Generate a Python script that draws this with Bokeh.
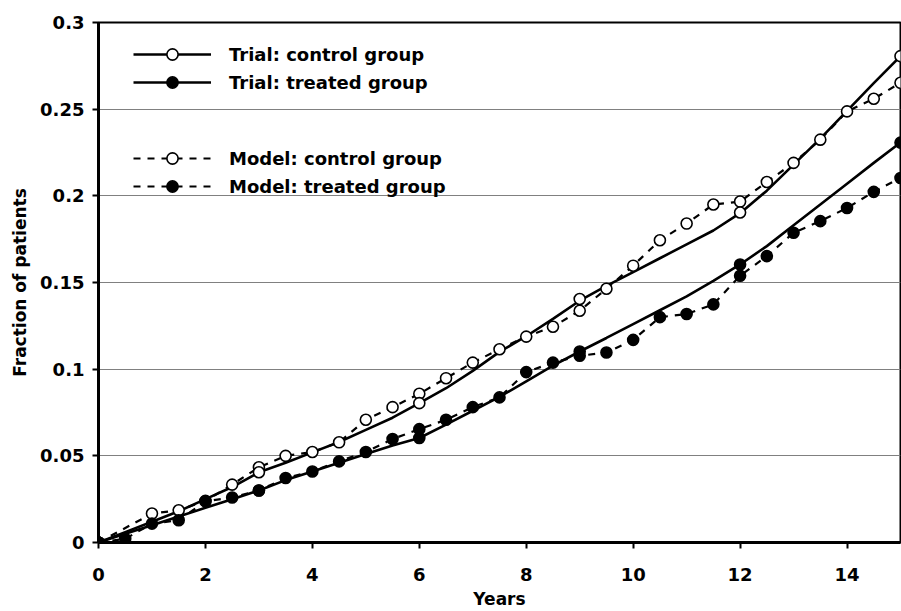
from bokeh.plotting import figure
from bokeh.models import FixedTicker, Legend, LegendItem, Range1d
from bokeh.embed import file_html
from bokeh.resources import INLINE

# ---- data ----
curve_years = [0, 0.5, 1, 1.5, 2, 2.5, 3, 3.5, 4, 4.5, 5, 5.5, 6, 6.5, 7, 7.5,
               8, 8.5, 9, 9.5, 10, 10.5, 11, 11.5, 12, 12.5, 13, 13.5, 14, 14.5, 15]
trial_control_curve = [0, 0.006, 0.012, 0.018, 0.025, 0.032, 0.0405, 0.046, 0.052, 0.058,
                       0.065, 0.072, 0.0804, 0.089, 0.099, 0.110, 0.119, 0.129, 0.1395,
                       0.148, 0.156, 0.164, 0.172, 0.180, 0.190, 0.203, 0.218, 0.233,
                       0.249, 0.265, 0.2806]
trial_treated_curve = [0, 0.005, 0.010, 0.015, 0.020, 0.025, 0.030, 0.036, 0.041, 0.046,
                       0.051, 0.056, 0.0603, 0.068, 0.076, 0.084, 0.093, 0.102, 0.1102,
                       0.118, 0.126, 0.134, 0.142, 0.151, 0.1604, 0.171, 0.183, 0.195,
                       0.207, 0.219, 0.2307]

trial_marker_years = [0, 3, 6, 9, 12, 15]
trial_control_pts = [0, 0.0405, 0.0804, 0.1405, 0.1904, 0.2806]
trial_treated_pts = [0, 0.030, 0.0603, 0.1102, 0.1604, 0.2307]

model_control_years = [0, 1, 1.5, 2, 2.5, 3, 3.5, 4, 4.5, 5, 5.5, 6, 6.5, 7, 7.5, 8,
                       8.5, 9, 9.5, 10, 10.5, 11, 11.5, 12, 12.5, 13, 13.5, 14, 14.5, 15]
model_control = [0, 0.0167, 0.0186, 0.024, 0.0334, 0.0434, 0.050, 0.0522, 0.0578, 0.0708,
                 0.0781, 0.0858, 0.0948, 0.1038, 0.1115, 0.1188, 0.1245, 0.1337, 0.1464,
                 0.1597, 0.1744, 0.184, 0.195, 0.1967, 0.208, 0.219, 0.2324, 0.2487,
                 0.256, 0.2652]
model_treated_years = [0, 0.5, 1, 1.5, 2, 2.5, 3, 3.5, 4, 4.5, 5, 5.5, 6, 6.5, 7, 7.5, 8,
                       8.5, 9, 9.5, 10, 10.5, 11, 11.5, 12, 12.5, 13, 13.5, 14, 14.5, 15]
model_treated = [0, 0.0021, 0.0109, 0.0128, 0.0238, 0.026, 0.030, 0.0372, 0.041, 0.0468,
                 0.0522, 0.0597, 0.0654, 0.0708, 0.0781, 0.0837, 0.0983, 0.1038, 0.1077,
                 0.1096, 0.1169, 0.130, 0.1318, 0.1374, 0.1539, 0.1652, 0.1787, 0.1854,
                 0.193, 0.2023, 0.2103]

x_ticks = [0, 2, 4, 6, 8, 10, 12, 14]
y_ticks = [0, 0.05, 0.1, 0.15, 0.2, 0.25, 0.3]
y_tick_labels = ["0", "0.05", "0.1", "0.15", "0.2", "0.25", "0.3"]

FONT = "DejaVu Sans"

p = figure(width=901, height=611, x_range=Range1d(0, 15), y_range=Range1d(0, 0.3),
           output_backend="svg", toolbar_location=None,
           min_border_left=98, min_border_right=1, min_border_top=22, min_border_bottom=68,
           x_axis_label="Years", y_axis_label="Fraction of patients")
p.background_fill_color = "white"
p.border_fill_color = "white"
p.outline_line_color = "black"
p.outline_line_width = 2

p.xgrid.grid_line_color = None
p.ygrid.grid_line_color = "#808080"
p.ygrid.grid_line_width = 1

p.xaxis.ticker = FixedTicker(ticks=x_ticks)
p.yaxis.ticker = FixedTicker(ticks=y_ticks)
p.yaxis.major_label_overrides = {t: l for t, l in zip(y_ticks, y_tick_labels)}

for ax in (p.xaxis[0], p.yaxis[0]):
    ax.axis_line_width = 3
    ax.axis_line_color = "black"
    ax.major_tick_line_width = 2
    ax.major_tick_out = 6
    ax.major_tick_in = 0
    ax.minor_tick_line_color = None
    ax.major_label_text_font = FONT
    ax.major_label_text_font_style = "bold"
    ax.major_label_text_font_size = "18px"
    ax.major_label_text_color = "black"
    ax.axis_label_text_font = FONT
    ax.axis_label_text_font_style = "bold"
    ax.axis_label_text_font_size = "17px"
    ax.axis_label_text_color = "black"
p.xaxis.major_label_standoff = 19
p.xaxis.axis_label_standoff = 5
p.yaxis.major_label_standoff = 8
p.yaxis.axis_label_standoff = 7

# trial curves (solid)
tc_line = p.line(curve_years, trial_control_curve, line_color="black", line_width=2.6)
tt_line = p.line(curve_years, trial_treated_curve, line_color="black", line_width=2.6)
# model curves (dashed)
mc_line = p.line(model_control_years, model_control, line_color="black", line_width=2.2,
                 line_dash="7 7")
mt_line = p.line(model_treated_years, model_treated, line_color="black", line_width=2.2,
                 line_dash="7 7")
# markers
mc_pts = p.scatter(model_control_years, model_control, size=11, fill_color="white",
                   line_color="black", line_width=1.6)
mt_pts = p.scatter(model_treated_years, model_treated, size=11, fill_color="black",
                   line_color="black", line_width=1.6)
tc_pts = p.scatter(trial_marker_years, trial_control_pts, size=11, fill_color="white",
                   line_color="black", line_width=1.6)
tt_pts = p.scatter(trial_marker_years, trial_treated_pts, size=11, fill_color="black",
                   line_color="black", line_width=1.6)


def make_legend(items, loc, spacing):
    lg = Legend(items=items, location=loc, orientation="vertical",
                background_fill_alpha=0, border_line_alpha=0,
                padding=0, margin=0, spacing=spacing, glyph_width=78, glyph_height=28,
                label_height=28, label_standoff=18,
                label_text_font=FONT, label_text_font_style="bold",
                label_text_font_size="18px", label_text_color="black")
    return lg


leg1 = make_legend([LegendItem(label="Trial: control group", renderers=[tc_line, tc_pts]),
                    LegendItem(label="Trial: treated group", renderers=[tt_line, tt_pts])],
                   (35, 446), -4)
leg2 = make_legend([LegendItem(label="Model: control group", renderers=[mc_line, mc_pts]),
                    LegendItem(label="Model: treated group", renderers=[mt_line, mt_pts])],
                   (35, 342), -2)
p.add_layout(leg1, "center")
p.add_layout(leg2, "center")

open("out.html", "w").write(file_html(p, INLINE))
